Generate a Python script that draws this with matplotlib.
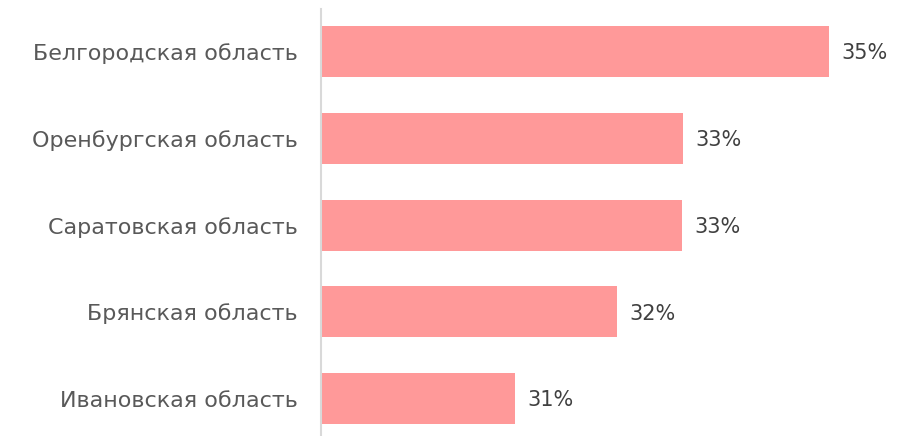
import matplotlib
matplotlib.use("Agg")
import matplotlib.pyplot as plt

categories = ["Белгородская область", "Оренбургская область", "Саратовская область",
              "Брянская область", "Ивановская область"]
values = [34.98, 32.98, 32.96, 32.07, 30.67]

plt.rcParams['font.family'] = ['DejaVu Sans']

fig = plt.figure(figsize=(9.10, 4.36), dpi=100)
ax = fig.add_axes([321/910, 0, 1 - 321/910, 1 - 9/436])

y = list(range(len(categories)))
ax.barh(y, values, height=0.59, color="#FF9999", left=0)
ax.set_xlim(28, 36.1)
ax.set_ylim(4.43, -0.49)

for yi, v in zip(y, values):
    ax.text(v + 0.17, yi + 0.02, f"{round(v):d}%", va="center", ha="left",
            fontsize=15, color="#404040")

ax.set_yticks(y)
ax.set_yticklabels(categories, fontsize=16, color="#595959")
ax.tick_params(axis='y', length=0, pad=16.5)
ax.set_xticks([])
for s in ["top", "right", "bottom"]:
    ax.spines[s].set_visible(False)
ax.spines["left"].set_color("#D9D9D9")
ax.spines["left"].set_linewidth(1.5)

fig.savefig("out.png", dpi=100)
